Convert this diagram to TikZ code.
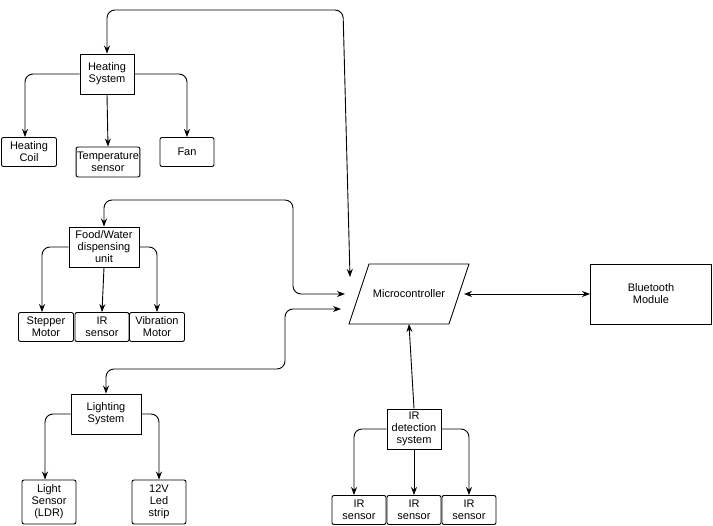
\documentclass[tikz,border=0pt]{standalone}
\usepackage{fontspec}
\setmainfont{Liberation Sans}
\usetikzlibrary{arrows.meta}
\tikzset{
  box/.style={draw,line width=0.9pt,rectangle,align=center,inner sep=1pt,font=\fontsize{11}{12}\selectfont},
  wire/.style={line width=0.9pt,-{Stealth[length=8pt,width=6pt]},rounded corners=8pt},
  bwire/.style={line width=0.9pt,{Stealth[length=8pt,width=6pt]}-{Stealth[length=8pt,width=6pt]},rounded corners=8pt}
}
\begin{document}
\begin{tikzpicture}[x=1pt,y=-1pt]
\useasboundingbox (0,0) rectangle (713,526);

\node[box,minimum width=54,minimum height=40](hs) at (107,74) {Heating\\System};
\node[box,minimum width=55,minimum height=29,rounded corners=2pt](coil) at (29,152) {Heating\\Coil};
\node[box,minimum width=55,minimum height=30,rounded corners=2pt](temp) at (108,162) {Temperature\\sensor};
\node[box,minimum width=54,minimum height=29,rounded corners=2pt](fan) at (187,152) {Fan};

\node[box,minimum width=70,minimum height=40](fw) at (104,247) {Food/Water\\dispensing\\unit};
\node[box,minimum width=55,minimum height=29,rounded corners=2pt](step) at (46,327) {Stepper\\Motor};
\node[box,minimum width=54,minimum height=29,rounded corners=2pt](irf) at (102,327) {IR\\sensor};
\node[box,minimum width=55,minimum height=29,rounded corners=2pt](vib) at (157,327) {Vibration\\Motor};

% microcontroller parallelogram
\node[box,draw=none,minimum width=100,minimum height=60](mc) at (409,294) {Microcontroller};
\draw[line width=0.9pt] (349,324) -- (369,264) -- (469,264) -- (449,324) -- cycle;
\node[box,minimum width=121,minimum height=60](bt) at (651,294) {Bluetooth\\Module};

\node[box,minimum width=70,minimum height=40](ls) at (106,414) {Lighting\\System};
\node[box,minimum width=54,minimum height=44,rounded corners=2pt](ldr) at (49,502) {Light\\Sensor\\(LDR)};
\node[box,minimum width=54,minimum height=44,rounded corners=2pt](led) at (159,502) {12V\\Led\\strip};

\node[box,minimum width=54,minimum height=40](ird) at (414,429) {IR\\detection\\system};
\node[box,minimum width=54,minimum height=29,rounded corners=2pt](ir1) at (359,510) {IR\\sensor};
\node[box,minimum width=54,minimum height=29,rounded corners=2pt](ir2) at (414,510) {IR\\sensor};
\node[box,minimum width=54,minimum height=29,rounded corners=2pt](ir3) at (469,510) {IR\\sensor};

\coordinate (mctop) at (350,277);
\coordinate (mcleft) at (345,294);
\coordinate (mclow) at (341,309);
\coordinate (mcright) at (464,294);
\coordinate (mcbot) at (409,324);

\draw[bwire] (hs.north) -- (107,10) -- (343,10) -- (mctop);
\draw[wire] (hs.west) -- (25,74) -- (coil.north -| 25,0);
\draw[wire] (hs.south) -- (temp.north);
\draw[wire] (hs.east) -- (187,74) -- (fan.north);

\draw[bwire] (fw.north) -- (104,200) -- (293,200) -- (293,294) -- (mcleft);
\draw[wire] (fw.west) -- (42,247) -- (step.north -| 42,0);
\draw[wire] (fw.south) -- (irf.north);
\draw[wire] (fw.east) -- (157,247) -- (vib.north);

\draw[bwire] (ls.north) -- (106,369) -- (285,369) -- (285,309) -- (mclow);
\draw[wire] (ls.west) -- (45,414) -- (ldr.north -| 45,0);
\draw[wire] (ls.east) -- (159,414) -- (led.north);

\draw[wire] (ird.north) -- (mcbot);
\draw[wire] (ird.west) -- (354,429) -- (ir1.north -| 354,0);
\draw[wire] (ird.south) -- (ir2.north);
\draw[wire] (ird.east) -- (469,429) -- (ir3.north);

\draw[bwire] (mcright) -- (bt.west);
\end{tikzpicture}
\end{document}
